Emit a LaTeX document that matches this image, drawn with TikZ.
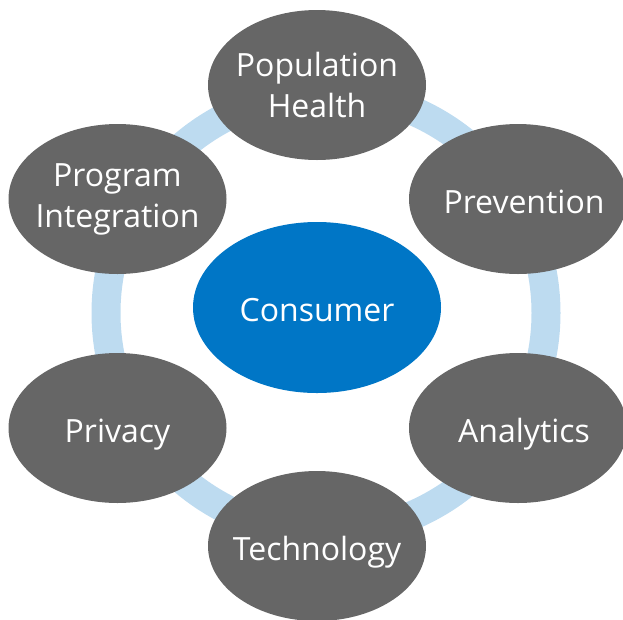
\documentclass[tikz,border=0pt]{standalone}
\usepackage{fontspec}
\setmainfont{Open Sans}
\usetikzlibrary{shapes.geometric}

\definecolor{petalgray}{RGB}{102,102,102}
\definecolor{hubblue}{RGB}{0,118,198}
\definecolor{ringblue}{RGB}{189,219,240}

\tikzset{
  petal/.style={ellipse, fill=petalgray, text=white, align=center,
    minimum width=218pt, minimum height=150pt, inner xsep=-20pt, inner ysep=0pt},
  hub/.style={ellipse, fill=hubblue, text=white,
    minimum width=248pt, minimum height=171pt, inner xsep=-20pt, inner ysep=0pt},
  oneline/.style={text height=28pt, text depth=0pt},
  ring/.style={draw=ringblue, line width=29pt}
}

\begin{document}
\begin{tikzpicture}[x=1pt, y=-1pt, font=\fontsize{32}{41}\selectfont]
\useasboundingbox (0,0) rectangle (623,619);
% ring behind everything
\coordinate (ringc) at (326,313);
\draw[ring] (ringc) circle (220pt);
% centre
\node[hub, oneline] (consumer) at (317,307.5) {Consumer};
% petals, clockwise from the top
\node[petal] (pophealth) at (317,85) {Population\\Health};
\node[petal, oneline] (prevention) at (518,199) {\hspace*{12pt}Prevention};
\node[petal, oneline] (analytics) at (518,428) {\hspace*{12pt}Analytics};
\node[petal, oneline] (technology) at (317,546) {Technology};
\node[petal, oneline] (privacy) at (117.5,428) {Privacy};
\node[petal] (progint) at (117.5,199) {Program\\Integration};
\end{tikzpicture}
\end{document}
